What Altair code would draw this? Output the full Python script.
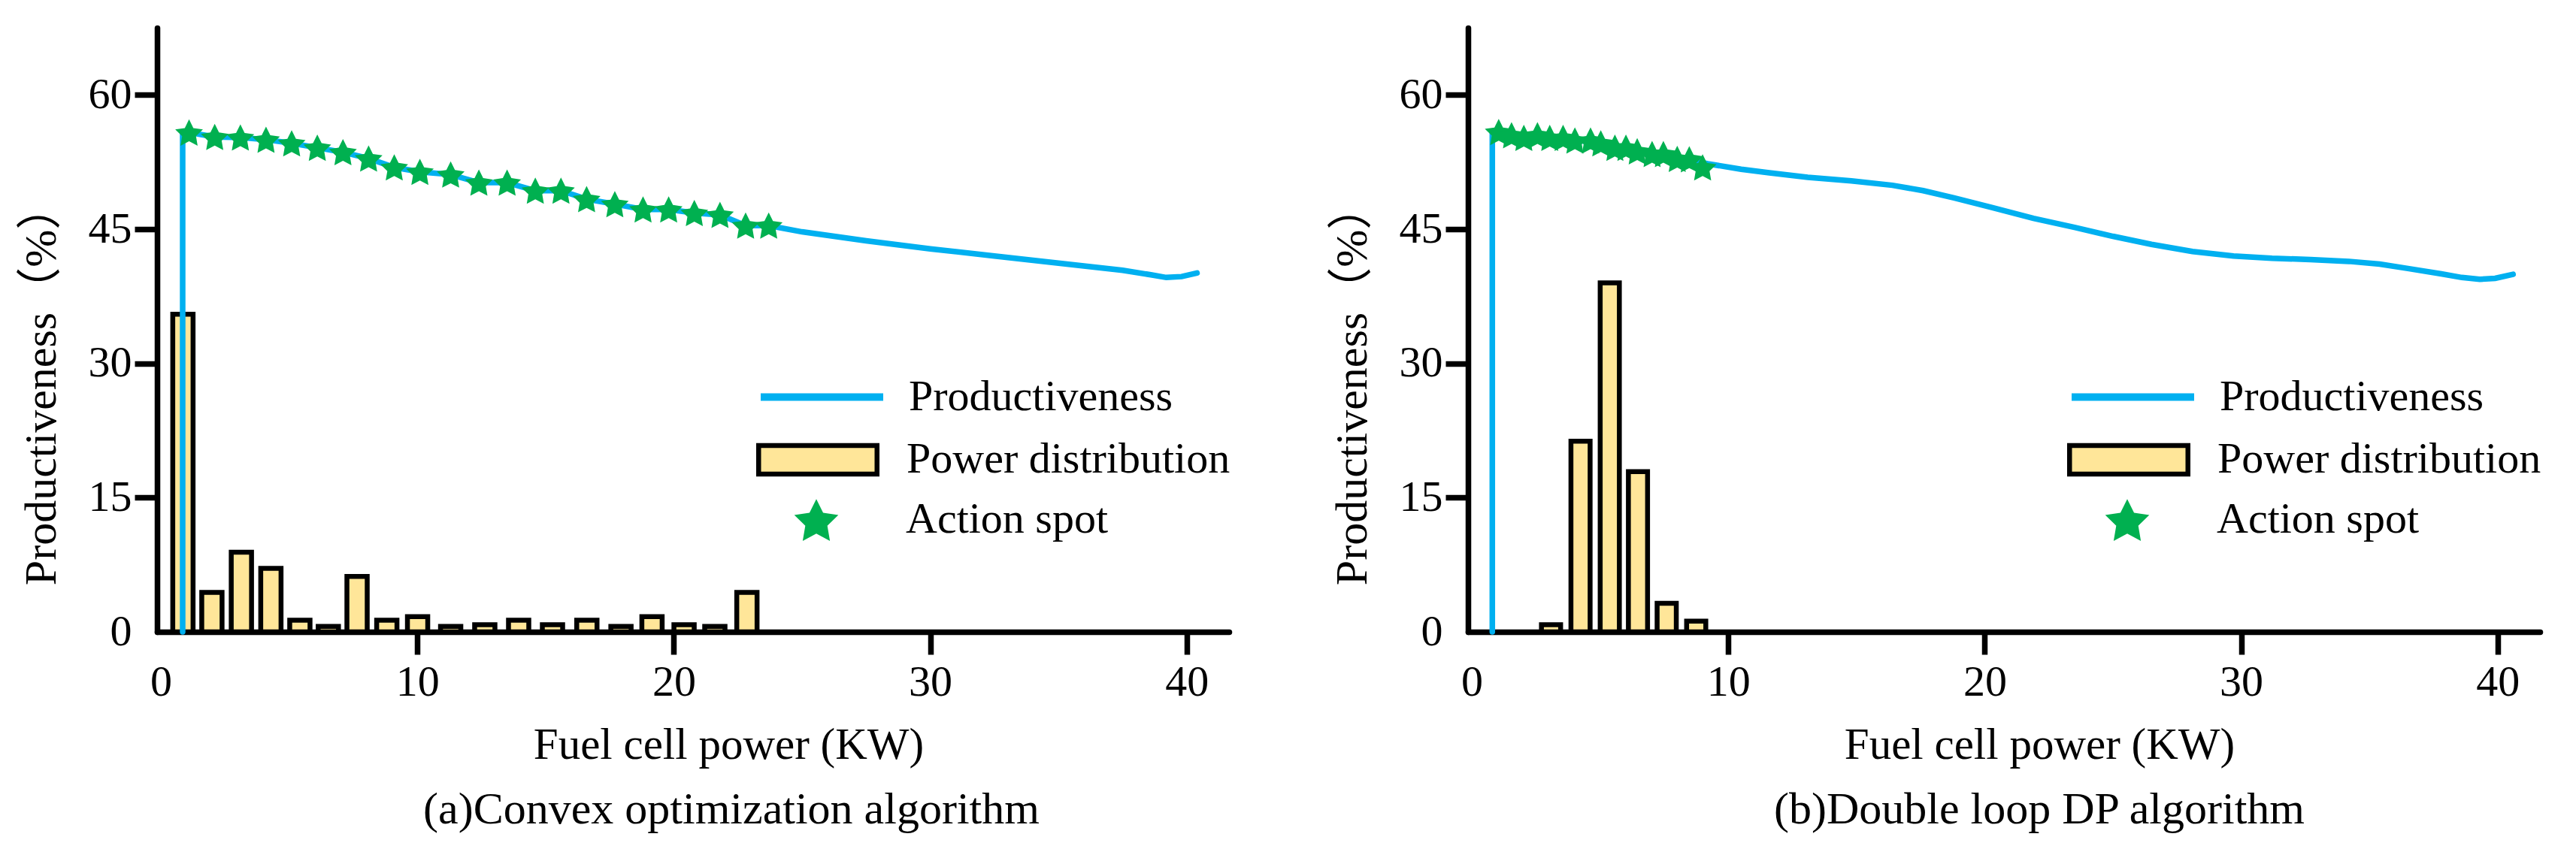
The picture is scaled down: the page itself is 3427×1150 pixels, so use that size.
import math
import altair as alt
import pandas as pd

# ---- panel (a): convex optimization ----
a_line_x = [0.85, 0.85, 1.1, 2.1, 3.1, 4.1, 5.1, 6.1, 7.1, 8.1, 9.1, 10.1, 11.3, 12.4,
            13.5, 14.6, 15.6, 16.6, 17.7, 18.8, 19.8, 20.8, 21.8, 22.8, 23.7, 25.0,
            27.5, 30.0, 32.5, 35.0, 37.5, 38.6, 39.2, 39.8, 40.4]
a_line_y = [0.0, 55.8, 55.8, 55.3, 55.25, 55.0, 54.6, 54.1, 53.6, 52.9, 51.9, 51.4, 51.1,
            50.2, 50.2, 49.3, 49.3, 48.35, 47.8, 47.2, 47.2, 46.8, 46.6, 45.4, 45.4,
            44.7, 43.7, 42.8, 42.0, 41.2, 40.4, 39.9, 39.6, 39.7, 40.1]
a_star_x = [1.1, 2.1, 3.1, 4.1, 5.1, 6.1, 7.1, 8.1, 9.1, 10.1, 11.3, 12.4, 13.5, 14.6,
            15.6, 16.6, 17.7, 18.8, 19.8, 20.8, 21.8, 22.8, 23.7]
a_star_y = [55.8, 55.3, 55.25, 55.0, 54.6, 54.1, 53.6, 52.9, 51.9, 51.4, 51.1, 50.2,
            50.2, 49.3, 49.3, 48.35, 47.8, 47.2, 47.2, 46.8, 46.6, 45.4, 45.4]
a_bar_x = [0.86, 1.99, 3.14, 4.29, 5.42, 6.53, 7.65, 8.81, 10.01, 11.3, 12.63, 13.95,
           15.27, 16.61, 17.94, 19.15, 20.4, 21.6, 22.85]
a_bar_y = [35.5, 4.4, 8.9, 7.1, 1.3, 0.6, 6.2, 1.3, 1.7, 0.6, 0.8, 1.3, 0.8, 1.3, 0.6,
           1.7, 0.8, 0.6, 4.4]

# ---- panel (b): double loop DP ----
b_line_x = [0.8, 0.8, 1.5, 2.5, 3.5, 4.5, 5.5, 6.5, 7.5, 8.5, 9.2, 10.5, 11.6, 13.1,
            14.8, 16.4, 17.6, 18.8, 20.3, 21.9, 23.5, 25.0, 26.5, 28.1, 29.7, 31.2,
            32.7, 34.2, 35.4, 36.5, 37.8, 38.6, 39.3, 39.9, 40.6]
b_line_y = [0.0, 55.8, 55.6, 55.3, 55.1, 54.8, 54.3, 53.8, 53.3, 52.7, 52.3, 51.7, 51.3,
            50.8, 50.4, 49.9, 49.3, 48.5, 47.4, 46.2, 45.2, 44.2, 43.3, 42.5, 42.0,
            41.75, 41.6, 41.4, 41.1, 40.6, 40.0, 39.6, 39.4, 39.5, 39.95]
b_star_x = [1.05, 1.55, 2.03, 2.56, 3.04, 3.56, 4.02, 4.63, 5.03, 5.58, 6.01, 6.45,
            7.03, 7.47, 8.01, 8.48, 9.0]
b_star_y = [55.85, 55.5, 55.2, 55.5, 55.2, 55.2, 54.9, 54.9, 54.6, 54.1, 54.1, 53.7,
            53.4, 53.4, 52.85, 52.8, 51.9]
b_bar_x = [3.09, 4.24, 5.38, 6.48, 7.6, 8.75]
b_bar_y = [0.8, 21.3, 39.0, 17.9, 3.2, 1.2]

x_ticks = [0, 10, 20, 30, 40]
y_ticks = [0, 15, 30, 45, 60]

FONT = 'Liberation Serif'
BLUE = '#00B0F0'
GREEN = '#00B050'
GOLD = '#FFE699'


def star_path(inner=0.5):
    pts = []
    for k in range(10):
        r = 1.0 if k % 2 == 0 else inner
        ang = math.radians(-90 + 36 * k)
        pts.append((r * math.cos(ang), r * math.sin(ang) + 0.0955))
    return 'M' + 'L'.join(f'{x:.3f},{y:.3f}' for x, y in pts) + 'Z'


STAR = star_path()
RECT = 'M-1,-0.24H1V0.24H-1Z'

no_zero_tick = {"condition": {"test": "datum.value === 0", "value": "transparent"},
                "value": "black"}

x_scale = alt.Scale(domain=[0, 41.5], nice=False, zero=False)
y_scale = alt.Scale(domain=[0, 67.5], nice=False)


def axis_common():
    return dict(grid=False, domainColor='black', domainWidth=7.5, domainCap='round',
                tickColor=no_zero_tick, tickWidth=7.5, tickSize=30,
                labelFont=FONT, labelFontSize=58, labelColor='black',
                titleFontWeight='normal', titleColor='black')


def legend_common():
    return dict(title=None, orient='none', padding=0, labelFont=FONT, labelFontSize=58,
                labelColor='black', labelLimit=0)


def panel(line_x, line_y, star_x, star_y, bar_x, bar_y, bar_size, caption, title_dx):
    line_df = pd.DataFrame({'p': line_x, 'v': line_y, 'i': range(len(line_x)),
                            's': 'Productiveness'})
    bar_df = pd.DataFrame({'p': bar_x, 'v': bar_y, 's': 'Power distribution'})
    star_df = pd.DataFrame({'p': star_x, 'v': star_y, 's': 'Action spot'})

    x_enc = alt.X('p:Q', scale=x_scale, axis=alt.Axis(
        values=x_ticks, title='Fuel cell power (KW)', labelPadding=8,
        titleFont=FONT, titleFontSize=59, titleX=760, titleY=168,
        titleBaseline='alphabetic', **axis_common()))
    y_enc = alt.Y('v:Q', scale=y_scale, axis=alt.Axis(
        values=y_ticks, title='Productiveness（%）', labelPadding=4,
        titleFont=FONT + ', Noto Sans CJK SC', titleFontSize=60, titleAngle=270,
        titleX=-136, titleY=475, titleBaseline='alphabetic', titleAlign='center',
        **axis_common()))

    bars = alt.Chart(bar_df).mark_bar(size=bar_size, stroke='black', strokeWidth=6.5,
                                      opacity=1).encode(
        x=x_enc, y=y_enc,
        fill=alt.Fill('s:N', scale=alt.Scale(domain=['Power distribution'], range=[GOLD]),
                      legend=alt.Legend(symbolType=RECT, symbolSize=24806,
                                        symbolStrokeColor='black', symbolStrokeWidth=6.5,
                                        symbolFillColor=GOLD,
                                        legendX=797, legendY=493, labelOffset=36,
                                        **legend_common())))
    line = alt.Chart(line_df).mark_line(strokeWidth=7.5, strokeCap='round').encode(
        x='p:Q', y='v:Q', order='i:Q',
        color=alt.Color('s:N', scale=alt.Scale(domain=['Productiveness'], range=[BLUE]),
                        legend=alt.Legend(symbolType='stroke', symbolSize=26569,
                                          symbolStrokeWidth=10,
                                          legendX=798, legendY=405, labelOffset=29,
                                          **legend_common())))
    stars = alt.Chart(star_df).mark_point(filled=True, size=1500, color=GREEN,
                                          opacity=1).encode(
        x='p:Q', y='v:Q',
        shape=alt.Shape('s:N', scale=alt.Scale(domain=['Action spot'], range=[STAR]),
                        legend=alt.Legend(symbolSize=3800, symbolFillColor=GREEN,
                                          symbolStrokeWidth=0,
                                          legendX=846, legendY=624, labelOffset=88,
                                          **legend_common())))

    return alt.layer(bars, line, stars).properties(
        width=1426, height=804,
        title=alt.TitleParams(caption, orient='bottom', anchor='middle', frame='group',
                              dx=title_dx, offset=75, baseline='alphabetic', font=FONT,
                              fontSize=60, fontWeight='normal', color='black'))


left = panel(a_line_x, a_line_y, a_star_x, a_star_y, a_bar_x, a_bar_y, 27,
             '(a)Convex optimization algorithm', 51)
right = panel(b_line_x, b_line_y, b_star_x, b_star_y, b_bar_x, b_bar_y, 25.5,
              '(b)Double loop DP algorithm', 47)

chart = alt.hconcat(left, right, spacing=132).resolve_scale(
    color='independent', fill='independent', shape='independent'
).properties(
    padding={'left': 17, 'top': 29, 'right': 5, 'bottom': 5}
).configure_view(stroke=None)

chart.save("out.html", embed_options={"renderer": "svg", "actions": False})
